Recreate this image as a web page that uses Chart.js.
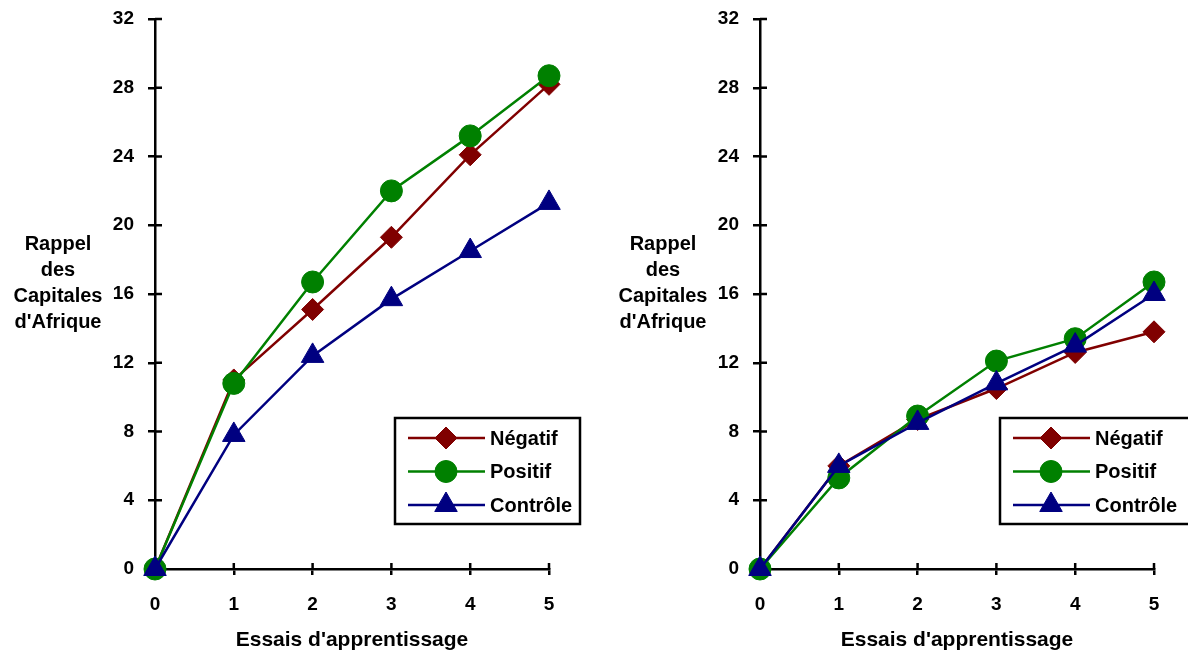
<!DOCTYPE html>
<html>
<head>
<meta charset="utf-8">
<script src="https://cdn.jsdelivr.net/npm/chart.js@4.4.1/dist/chart.umd.min.js"></script>
<style>
    body{margin:0;background:#fff;width:1188px;height:653px;overflow:hidden;position:relative}
    .box{position:absolute;top:0;height:653px}
</style>
</head>
<body>
<div class="box" style="left:0;width:605px"><canvas id="chart_left"></canvas></div>
<div class="box" style="left:605px;width:583px"><canvas id="chart_right"></canvas></div>
<script>
// essais (axe x) et graduations
const essais = [0, 1, 2, 3, 4, 5];
const yTicks = [0, 4, 8, 12, 16, 20, 24, 28, 32];
const seriesNames = ['Négatif', 'Positif', 'Contrôle'];

// graphique de gauche
const negatifLeft = [0, 11.0, 15.1, 19.3, 24.1, 28.2];
const positifLeft = [0, 10.8, 16.7, 22.0, 25.2, 28.7];
const controleLeft = [0, 7.8, 12.4, 15.7, 18.5, 21.3];

// graphique de droite
const negatifRight = [0, 6.0, 8.7, 10.5, 12.6, 13.8];
const positifRight = [0, 5.3, 8.9, 12.1, 13.4, 16.7];
const controleRight = [0, 6.0, 8.5, 10.8, 13.0, 16.0];

const xTitle = "Essais d'apprentissage";
const yTitle = ['Rappel', 'des', 'Capitales', "d'Afrique"];

const colors = ['#800000', '#008000', '#000080'];
const styles = ['rectRot', 'circle', 'triangle'];
const radii = [11, 11, 13];
const FONT = '"Liberation Sans", Arial, sans-serif';

const decor = {
    id: 'decor',
    beforeDatasetsDraw(chart) {
        const {ctx, chartArea: ca, scales} = chart;
        ctx.save();
        ctx.strokeStyle = '#000';
        ctx.lineWidth = 2.5;
        ctx.beginPath();
        scales.y.ticks.forEach(t => {
            const y = scales.y.getPixelForValue(t.value);
            ctx.moveTo(ca.left, y);
            ctx.lineTo(ca.left + 7, y);
        });
        scales.x.ticks.forEach(t => {
            const x = scales.x.getPixelForValue(t.value);
            ctx.moveTo(x, ca.bottom);
            ctx.lineTo(x, ca.bottom - 6);
        });
        ctx.stroke();
        ctx.restore();
    },
    afterDraw(chart, args, opts) {
        const {ctx, chartArea: ca} = chart;
        ctx.save();
        ctx.fillStyle = '#000';
        // titres
        ctx.font = 'bold 21px ' + FONT;
        ctx.textAlign = 'center';
        ctx.textBaseline = 'alphabetic';
        ctx.fillText(xTitle, (ca.left + ca.right) / 2, ca.bottom + 77);
        ctx.font = 'bold 20px ' + FONT;
        yTitle.forEach((line, i) => ctx.fillText(line, ca.left - 97, ca.top + 231 + i * 26));

        // légende
        const bx = ca.left + 240, by = 418;
        ctx.strokeStyle = '#000';
        ctx.lineWidth = 2.5;
        ctx.strokeRect(bx, by, opts.boxWidth, 106);
        ctx.textAlign = 'left';
        ctx.textBaseline = 'middle';
        chart.data.datasets.forEach((ds, i) => {
            const y = by + 20 + i * 33.5;
            ctx.strokeStyle = ds.borderColor;
            ctx.fillStyle = ds.backgroundColor;
            ctx.lineWidth = ds.borderWidth;
            ctx.beginPath();
            ctx.moveTo(bx + 13, y);
            ctx.lineTo(bx + 90, y);
            ctx.stroke();
            ctx.lineWidth = 1;
            Chart.helpers.drawPoint(ctx, {pointStyle: ds.pointStyle, radius: ds.pointRadius, rotation: 0, borderWidth: 1}, bx + 51, y);
            ctx.fillStyle = '#000';
            ctx.fillText(ds.label, bx + 95, y + 1);
        });
        ctx.restore();
    }
};

function CreateChart(id, values, rightPad, boxWidth) {
    const ctx = document.getElementById(id).getContext('2d');
    return new Chart(ctx, {
        type: 'line',
        data: {
            labels: essais,
            datasets: values.map((v, i) => ({
                label: seriesNames[i],
                data: essais.map((x, j) => ({x: x, y: v[j]})),
                borderColor: colors[i],
                backgroundColor: colors[i],
                borderWidth: 2.5,
                pointStyle: styles[i],
                pointRadius: radii[i],
                pointBorderWidth: 1,
                order: 2 - i,
                clip: false
            }))
        },
        options: {
            responsive: true,
            maintainAspectRatio: false,
            animation: false,
            events: [],
            layout: {padding: {top: 19, left: 0, right: rightPad, bottom: 0}},
            plugins: {
                legend: {display: false},
                tooltip: {enabled: false},
                decor: {boxWidth: boxWidth}
            },
            scales: {
                x: {
                    type: 'linear',
                    min: 0, max: 5,
                    afterBuildTicks: s => { s.ticks = essais.map(v => ({value: v})); },
                    afterFit: s => { s.height = 84; s.paddingLeft = 0; s.paddingRight = 0; },
                    grid: {drawOnChartArea: false, color: '#000', lineWidth: 2.5, tickLength: 6},
                    border: {color: '#000', width: 2.5},
                    ticks: {color: '#000', padding: 18, font: {family: FONT, size: 19, weight: 'bold'}}
                },
                y: {
                    min: 0, max: 32,
                    afterBuildTicks: s => { s.ticks = yTicks.map(v => ({value: v})); },
                    afterFit: s => { s.width = 155; s.paddingTop = 0; s.paddingBottom = 0; },
                    grid: {drawOnChartArea: false, color: '#000', lineWidth: 2.5, tickLength: 7},
                    border: {color: '#000', width: 2.5},
                    ticks: {color: '#000', padding: 14, font: {family: FONT, size: 19, weight: 'bold'}}
                }
            }
        },
        plugins: [decor]
    });
}

CreateChart('chart_left', [negatifLeft, positifLeft, controleLeft], 56, 185);
CreateChart('chart_right', [negatifRight, positifRight, controleRight], 34, 195);
</script>
</body>
</html>
